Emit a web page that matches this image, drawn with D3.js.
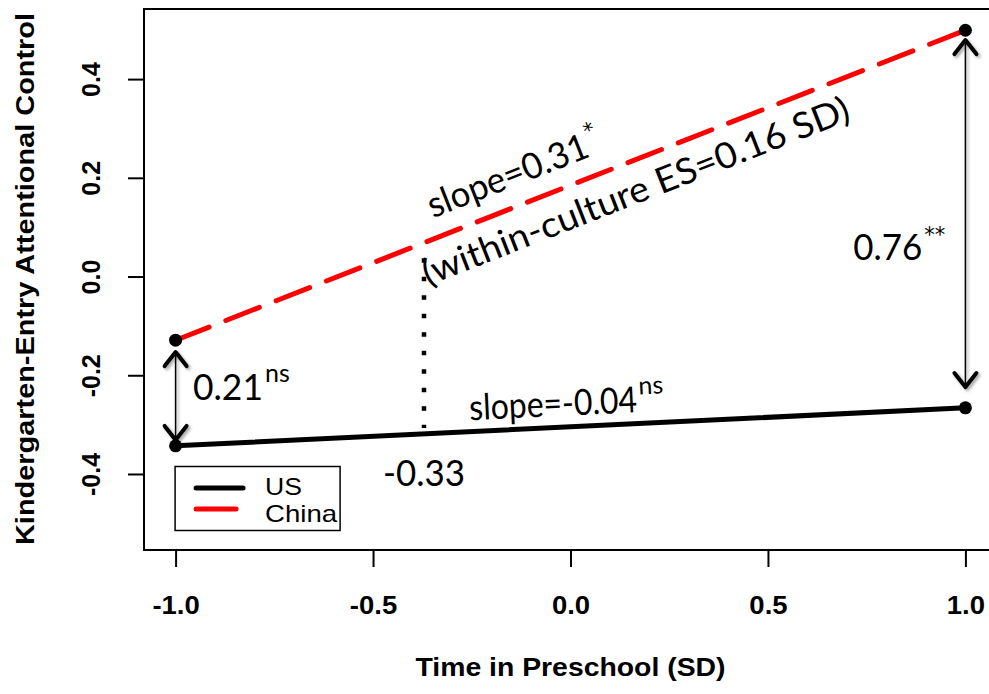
<!DOCTYPE html>
<html>
  <head>
    <meta charset="utf-8">
    <title>Attentional control by time in preschool</title>
    <style>
      body { margin: 0; background: #fff; }
      .axis text { font-family: "Liberation Sans", Arial, sans-serif; font-weight: bold; font-size: 25px; fill: #000; }
      .axis line { stroke: #000; stroke-width: 2; }
      .note { font-family: Lato, "Open Sans", sans-serif; font-size: 36px; fill: #000; }
      .sup { font-size: 25px; }
      .star { font-family: "DejaVu Sans", sans-serif; font-size: 21px; }
      .legend text { font-family: "Liberation Sans", Arial, sans-serif; font-size: 24px; }
    </style>
  </head>
  <body>
    <div id="chart"></div>
    <script src="https://d3js.org/d3.v7.min.js"></script>
    <script>
      // data
      var groups    = ["US", "China"]
      var colors    = ["#000000", "#ff0000"]
      var dashes    = ["none", "36,18"]
      var timeVals  = [-1, 1]
      var usVals    = [-0.343, -0.266]
      var chinaVals = [-0.129, 0.499]

      var xTicks = [-1.0, -0.5, 0.0, 0.5, 1.0]
      var yTicks = [-0.4, -0.2, 0.0, 0.2, 0.4]
      var xLabel = "Time in Preschool (SD)"
      var yLabel = "Kindergarten-Entry Attentional Control"

      // annotations, in data units
      var gapArrows = [
        {x: -1, y0: -0.153, y1: -0.331},
        {x:  1, y0:  0.479, y1: -0.224}
      ]
      var regionX = -0.371, regionTop = 0.037, regionBottom = -0.307

      var outerWidth = 989, outerHeight = 694
      var margin = {top: 9, left: 144},
          width  = 853,
          height = 541

      var svg = d3.select("#chart").append("svg")
          .attr("width", outerWidth)
          .attr("height", outerHeight)

      var defs = svg.append("defs")
      var shadow = defs.append("filter").attr("id", "shadow")
          .attr("x", "-50%").attr("y", "-50%").attr("width", "200%").attr("height", "200%")
      shadow.append("feDropShadow")
          .attr("dx", 2).attr("dy", 2).attr("stdDeviation", 1.5)
          .attr("flood-color", "#000").attr("flood-opacity", 0.35)

      var g = svg.append("g")
          .attr("transform", "translate(" + margin.left + "," + margin.top + ")")

      var x = d3.scaleLinear().domain([-1.08, 1.08]).range([0, width])
      var y = d3.scaleLinear().domain([-0.554, 0.542]).range([height, 0])

      // axes
      var gX = g.append("g").attr("class", "axis")
          .attr("transform", "translate(0," + height + ")")
          .call(d3.axisBottom(x).tickValues(xTicks).tickSize(17)
                .tickFormat(function(d){ return d.toFixed(1) }))
      gX.select(".domain").remove()
      gX.selectAll("text").attr("y", 64).attr("dy", 0)
        .each(function(){
          var len = this.getComputedTextLength()
          d3.select(this).attr("textLength", len * 1.1).attr("lengthAdjust", "spacingAndGlyphs")
        })

      var gY = g.append("g").attr("class", "axis")
          .call(d3.axisLeft(y).tickValues(yTicks).tickSize(16)
                .tickFormat(function(d){ return d.toFixed(1) }))
      gY.select(".domain").remove()
      gY.selectAll("text")
          .attr("x", 0).attr("y", 0).attr("dy", 0)
          .attr("text-anchor", "middle")
          .attr("transform", "translate(-44,0) rotate(-90)")

      // axis titles
      svg.append("text")
          .attr("x", margin.left + x(0)).attr("y", 676)
          .attr("text-anchor", "middle")
          .style("font-family", "'Liberation Sans', Arial, sans-serif")
          .style("font-weight", "bold").style("font-size", "26px")
          .attr("textLength", 310).attr("lengthAdjust", "spacingAndGlyphs")
          .text(xLabel)

      svg.append("text")
          .attr("transform", "translate(34,279) rotate(-90)")
          .attr("text-anchor", "middle")
          .style("font-family", "'Liberation Sans', Arial, sans-serif")
          .style("font-weight", "bold").style("font-size", "26px")
          .attr("textLength", 532).attr("lengthAdjust", "spacingAndGlyphs")
          .text(yLabel)

      // plot box
      g.append("rect")
          .attr("width", width).attr("height", height)
          .attr("fill", "none").attr("stroke", "#000").attr("stroke-width", 2)

      // lines
      var series = [usVals, chinaVals]
      var line = d3.line()
          .x(function(d, i){ return x(timeVals[i]) })
          .y(function(d){ return y(d) })

      g.selectAll(".series")
          .data(series)
          .enter().append("path")
          .attr("class", "series")
          .attr("d", line)
          .attr("fill", "none")
          .attr("stroke", function(d, i){ return colors[i] })
          .attr("stroke-width", 5)
          .attr("stroke-linecap", "round")
          .attr("stroke-dasharray", function(d, i){ return dashes[i] })

      // endpoints
      series.forEach(function(vals){
        g.selectAll(null).data(vals).enter().append("circle")
            .attr("cx", function(d, i){ return x(timeVals[i]) })
            .attr("cy", function(d){ return y(d) })
            .attr("r", 6.5)
            .attr("fill", "#000")
      })

      // dotted marker for region
      g.append("line")
          .attr("x1", x(regionX)).attr("x2", x(regionX))
          .attr("y1", y(regionTop)).attr("y2", y(regionBottom))
          .attr("stroke", "#000").attr("stroke-width", 4.5)
          .attr("stroke-dasharray", "4.5,14")

      // double arrows
      gapArrows.forEach(function(a){
        var ax = x(a.x), t = y(a.y0), b = y(a.y1)
        var ag = g.append("g").attr("filter", "url(#shadow)")
        ag.append("line").attr("x1", ax).attr("x2", ax).attr("y1", t).attr("y2", b)
            .attr("stroke", "#000").attr("stroke-width", 1.5)
        ;[[t, 1], [b, -1]].forEach(function(h){
          ag.append("path")
              .attr("d", "M" + (ax - 11) + "," + (h[0] + 14 * h[1]) + "L" + ax + "," + h[0] +
                         "L" + (ax + 11) + "," + (h[0] + 14 * h[1]))
              .attr("fill", "none").attr("stroke", "#000").attr("stroke-width", 4)
              .attr("stroke-linecap", "round").attr("stroke-linejoin", "round")
        })
      })

      // text notes
      function note(px, py, main, sup, angle, len) {
        var t = g.append("text").attr("class", "note")
            .attr("transform", "translate(" + x(px) + "," + y(py) + ") rotate(" + (angle || 0) + ")")
        var m = t.append("tspan").text(main)
        if (len) m.attr("textLength", len).attr("lengthAdjust", "spacingAndGlyphs")
        if (sup) {
          var star = sup.charAt(0) == "*"
          t.append("tspan").attr("class", star ? "star" : "sup")
              .attr("dy", star ? "-0.85em" : "-0.7em").attr("dx", 2).text(sup)
        }
        return t
      }
      var chinaAngle = Math.atan2(y(chinaVals[1]) - y(chinaVals[0]), x(1) - x(-1)) * 180 / Math.PI
      var usAngle = Math.atan2(y(usVals[1]) - y(usVals[0]), x(1) - x(-1)) * 180 / Math.PI

      note(-0.956, -0.250, "0.21", "ns", 0, 70)
      note(-0.475, -0.424, "-0.33", null, 0, 82)
      note(0.716, 0.033, "0.76", "**", 0, 69)
      note(-0.348, 0.118, "slope=0.31", "*", chinaAngle, 170)
      note(-0.361, -0.019, "(within-culture ES=0.16 SD)", null, chinaAngle, 456)
      note(-0.255, -0.291, "slope=-0.04", "ns", usAngle, 168)

      // legend
      var legendLen = [37, 72]
      var lg = g.append("g").attr("class", "legend")
          .attr("transform", "translate(" + (x(-1) - 0.5) + "," + 457.5 + ")")
      lg.append("rect").attr("width", 165).attr("height", 64)
          .attr("fill", "#fff").attr("stroke", "#000").attr("stroke-width", 1.5)
      groups.forEach(function(name, i){
        lg.append("line")
            .attr("x1", 21).attr("x2", i ? 61 : 68)
            .attr("y1", 21.5 + i * 21).attr("y2", 21.5 + i * 21)
            .attr("stroke", colors[i]).attr("stroke-width", 5)
            .attr("stroke-linecap", "round")
        lg.append("text").attr("x", 90).attr("y", 28 + i * 27)
            .attr("textLength", legendLen[i]).attr("lengthAdjust", "spacingAndGlyphs")
            .text(name)
      })
    </script>
  </body>
</html>
